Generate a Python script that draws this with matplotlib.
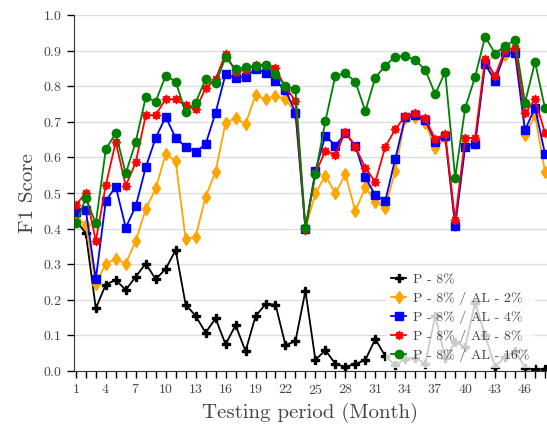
import matplotlib
matplotlib.use("Agg")
import matplotlib.pyplot as plt

plt.rcParams['font.family'] = 'serif'
plt.rcParams['font.serif'] = ['cmr10', 'DejaVu Serif']
plt.rcParams['axes.formatter.use_mathtext'] = True

months = list(range(1, 49))

# P - 8%
p8 = [0.424, 0.387, 0.176, 0.243, 0.256, 0.228, 0.265, 0.302, 0.258, 0.287,
      0.340, 0.187, 0.155, 0.108, 0.148, 0.075, 0.129, 0.056, 0.154, 0.188,
      0.187, 0.073, 0.084, 0.225, 0.031, 0.059, 0.020, 0.012, 0.020, 0.031,
      0.090, 0.042, 0.017, 0.034, 0.038, 0.021, 0.155, 0.037, 0.081, 0.068,
      0.192, 0.100, 0.012, 0.040, 0.056, 0.010, 0.005, 0.005]
# P - 8% / AL - 2%
al2 = [0.435, 0.410, 0.244, 0.302, 0.315, 0.302, 0.365, 0.455, 0.513, 0.609,
       0.590, 0.371, 0.377, 0.490, 0.560, 0.698, 0.710, 0.694, 0.775, 0.764,
       0.773, 0.764, 0.725, 0.400, 0.499, 0.549, 0.499, 0.553, 0.449, 0.516,
       0.476, 0.459, 0.563, 0.710, 0.715, 0.697, 0.626, 0.655, 0.410, 0.635,
       0.640, 0.865, 0.820, 0.888, 0.895, 0.663, 0.719, 0.560]
# P - 8% / AL - 4%
al4 = [0.448, 0.452, 0.258, 0.478, 0.518, 0.403, 0.463, 0.572, 0.655, 0.714,
       0.655, 0.630, 0.616, 0.637, 0.726, 0.834, 0.824, 0.827, 0.848, 0.838,
       0.815, 0.789, 0.726, 0.400, 0.563, 0.661, 0.633, 0.668, 0.633, 0.544,
       0.494, 0.478, 0.596, 0.714, 0.719, 0.705, 0.644, 0.661, 0.407, 0.630,
       0.637, 0.862, 0.815, 0.897, 0.893, 0.677, 0.740, 0.610]
# P - 8% / AL - 8%
al8 = [0.466, 0.501, 0.365, 0.522, 0.644, 0.520, 0.586, 0.718, 0.719, 0.764,
       0.763, 0.746, 0.735, 0.794, 0.820, 0.892, 0.841, 0.846, 0.860, 0.861,
       0.850, 0.797, 0.759, 0.400, 0.555, 0.619, 0.606, 0.672, 0.630, 0.571,
       0.531, 0.630, 0.679, 0.716, 0.724, 0.710, 0.651, 0.666, 0.424, 0.654,
       0.655, 0.877, 0.829, 0.902, 0.908, 0.724, 0.763, 0.669]
# P - 8% / AL - 16%
al16 = [0.415, 0.485, 0.415, 0.623, 0.668, 0.555, 0.644, 0.769, 0.757, 0.830,
        0.813, 0.727, 0.754, 0.820, 0.808, 0.881, 0.848, 0.853, 0.857, 0.860,
        0.834, 0.801, 0.791, 0.401, 0.553, 0.702, 0.830, 0.836, 0.813, 0.730,
        0.824, 0.858, 0.883, 0.885, 0.874, 0.846, 0.778, 0.840, 0.543, 0.738,
        0.827, 0.939, 0.892, 0.913, 0.930, 0.754, 0.868, 0.738]

labels = ['P - 8%', 'P - 8% / AL - 2%', 'P - 8% / AL - 4%',
          'P - 8% / AL - 8%', 'P - 8% / AL - 16%']

fig = plt.figure(figsize=(5.47, 4.30), dpi=100)
ax = fig.add_axes([0.135, 0.137, 0.865, 0.828])

ax.plot(months, p8, color='black', marker='P', ms=6, lw=1.3, label=labels[0])
ax.plot(months, al2, color='orange', marker='d', ms=6.5, lw=1.3, label=labels[1])
ax.plot(months, al4, color='blue', marker='s', ms=5.5, lw=1.3, label=labels[2])
ax.plot(months, al8, color='red', marker=(8, 1, 0), ms=6.5, lw=1.3, label=labels[3])
ax.plot(months, al16, color='green', marker='o', ms=6, lw=1.3, label=labels[4])

ax.set_xlim(0.8, 48.2)
ax.set_ylim(0, 1.0)
ax.set_yticks([i / 10 for i in range(11)])
ax.set_xticks(range(1, 49), minor=True)
ax.set_xticks(range(1, 47, 3))
ax.tick_params(axis='x', which='minor', length=5, width=1)
ax.tick_params(axis='both', which='major', length=5, width=1, labelsize=10, labelcolor='#444444')
ax.yaxis.grid(True, color='#dddddd', lw=1)
ax.set_axisbelow(True)
for s in ['top', 'right']:
    ax.spines[s].set_visible(False)
ax.spines['left'].set_color('#333333')
ax.spines['bottom'].set_color('#333333')

ax.set_xlabel('Testing period (Month)', fontsize=15, color='#444444')
ax.set_ylabel('F1 Score', fontsize=15, color='#444444')

leg = ax.legend(loc='lower right', bbox_to_anchor=(0.99, -0.01), fontsize=10,
                framealpha=0.8, labelspacing=0.4, handlelength=1.1, handletextpad=0.5)
leg.get_frame().set_edgecolor('none')
leg.get_frame().set_boxstyle('square', pad=0)
for t in leg.get_texts():
    t.set_color('#444444')

fig.savefig('out.png', dpi=100)
